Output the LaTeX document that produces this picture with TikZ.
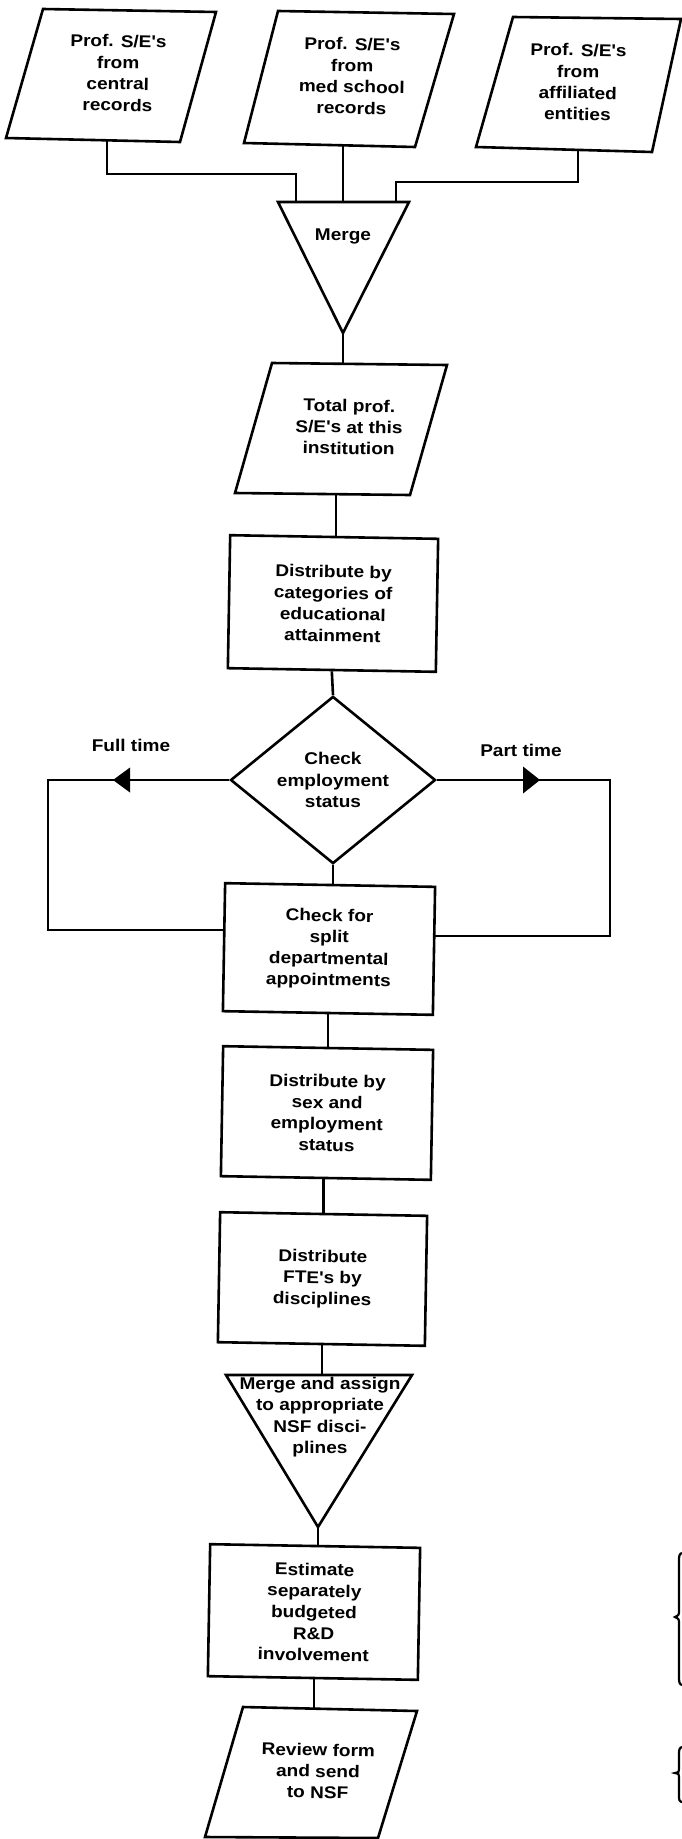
\documentclass[tikz,border=0pt]{standalone}
\usepackage{fontspec}
\newfontfamily\lab{Liberation Sans}[FakeStretch=1.12]
\usetikzlibrary{shapes.geometric}
\begin{document}
\begin{tikzpicture}[x=1pt,y=-1pt,line width=2.6pt,line join=miter,
  txt/.style={align=center,inner sep=0pt,font=\lab\bfseries\fontsize{17}{21.3}\selectfont},
  stepbox/.style={txt,draw,rectangle,minimum width=#1,rotate=-1},
  tip/.style={fill=black,line width=0pt}]
\useasboundingbox (0,0) rectangle (682,1839);
% ---- top inputs (parallelograms) ----
\coordinate (b1tl) at (43,9);   \coordinate (b1tr) at (216,12);
\coordinate (b1br) at (180,142); \coordinate (b1bl) at (6,138);
\draw (b1tl) -- (b1tr) -- (b1br) -- (b1bl) -- cycle;
\node[txt,rotate=-1] (b1) at (118,73) {Prof. S/E's\\from\\central\\records};
\coordinate (b2tl) at (278,11);  \coordinate (b2tr) at (454,14);
\coordinate (b2br) at (415,147); \coordinate (b2bl) at (244,143);
\draw (b2tl) -- (b2tr) -- (b2br) -- (b2bl) -- cycle;
\node[txt,rotate=-1] (b2) at (352,76) {Prof. S/E's\\from\\med school\\records};
\coordinate (b3tl) at (513,17);  \coordinate (b3tr) at (681,19);
\coordinate (b3br) at (652,152); \coordinate (b3bl) at (476,147);
\draw (b3tl) -- (b3tr) -- (b3br) -- (b3bl) -- cycle;
\node[txt,rotate=-1] (b3) at (578,82) {Prof. S/E's\\from\\affiliated\\entities};
% ---- merge triangle ----
\coordinate (m1l) at (278,202); \coordinate (m1r) at (409,202); \coordinate (m1p) at (343,333);
\draw (m1l) -- (m1r) -- (m1p) -- cycle;
\node[txt] (merge1) at (343,236) {Merge};
\coordinate (b1out) at (107,141); \coordinate (b2out) at (343,145); \coordinate (b3out) at (578,150);
\coordinate (m1in1) at (296,202); \coordinate (m1in2) at (343,202); \coordinate (m1in3) at (396,202);
\draw (b1out) |- (m1in1 |- 0,174) -- (m1in1);
\draw (b2out) -- (m1in2);
\draw (b3out) |- (m1in3 |- 0,182) -- (m1in3);
% ---- total ----
\coordinate (ttl) at (272,363);  \coordinate (ttr) at (447,365);
\coordinate (tbr) at (410,495);  \coordinate (tbl) at (235,493);
\draw (ttl) -- (ttr) -- (tbr) -- (tbl) -- cycle;
\node[txt,rotate=-1] (tot) at (349,427) {Total prof.\\S/E's at this\\institution};
\coordinate (totin) at (343,364); \coordinate (totout) at (336,494);
\draw (m1p) -- (totin);
\node[stepbox=208,minimum height=133] (d1) at (333,603.5) {Distribute by\\categories of\\educational\\attainment};
\draw (totout) -- (totout |- d1.north);
\node[txt,draw,diamond,minimum width=205,minimum height=150] (dia) at (333,780) {Check\\employment\\status};
\draw (d1.south) -- (dia.north);
\node[stepbox=210,minimum height=128] (chk) at (329,949) {Check for\\split\\departmental\\appointments};
\draw (dia.south) -- (dia.south |- chk.north);
\coordinate (cl2) at (48,930); \coordinate (cr2) at (610,936);
\draw (dia.west) -| (cl2) -- (chk.west |- cl2);
\draw (dia.east) -| (cr2) -- (chk.east |- cr2);
\fill[tip] (113,780) -- (130,767.5) -- (130,792.5) -- cycle;
\fill[tip] (540,780) -- (523,766.5) -- (523,793.5) -- cycle;
\node[txt] (ft) at (131,745) {Full time};
\node[txt] (pt) at (521,750) {Part time};
\node[stepbox=210,minimum height=130] (sx) at (327,1113) {Distribute by\\sex and\\employment\\status};
\draw (sx.north |- chk.south) -- (sx.north);
\node[stepbox=207,minimum height=130] (fte) at (322.5,1279) {Distribute\\FTE's by\\disciplines};
\draw (fte.north |- sx.south) -- (fte.north);
% ---- merge and assign triangle ----
\coordinate (m2l) at (226,1375); \coordinate (m2r) at (412,1375); \coordinate (m2p) at (318,1527);
\draw (m2l) -- (m2r) -- (m2p) -- cycle;
\node[txt] (merge2) at (320,1417) {Merge and assign\\to appropriate\\NSF disci-\\plines};
\coordinate (m2in) at (322,1375);
\draw (fte.south -| m2in) -- (m2in);
\node[stepbox=210,minimum height=132] (est) at (314,1612) {Estimate\\separately\\budgeted\\R\&D\\involvement};
\draw (m2p) -- (m2p |- est.north);
% ---- review (parallelogram) ----
\coordinate (rtl) at (243,1707); \coordinate (rtr) at (417,1711);
\coordinate (rbr) at (378,1838); \coordinate (rbl) at (205,1837);
\draw (rtl) -- (rtr) -- (rbr) -- (rbl) -- cycle;
\node[txt,rotate=-1] (rev) at (318,1771) {Review form\\and send\\to NSF};
\coordinate (revin) at (314,1709);
\draw (est.south -| revin) -- (revin);
% ---- partial braces at right edge ----
\draw[line width=2.2pt] (683,1553) .. controls (679,1553) and (679,1556) .. (679,1562) -- (679,1610) .. controls (679,1615) .. (675,1617) .. controls (679,1619) .. (679,1624) -- (679,1676) .. controls (679,1682) and (679,1685) .. (683,1685);
\draw[line width=2.2pt] (683,1747) .. controls (679,1747) and (679,1750) .. (679,1755) -- (679,1769) .. controls (679,1772) .. (675,1773) .. controls (679,1774) .. (679,1777) -- (679,1795) .. controls (679,1800) and (679,1802) .. (683,1802);
\end{tikzpicture}
\end{document}
